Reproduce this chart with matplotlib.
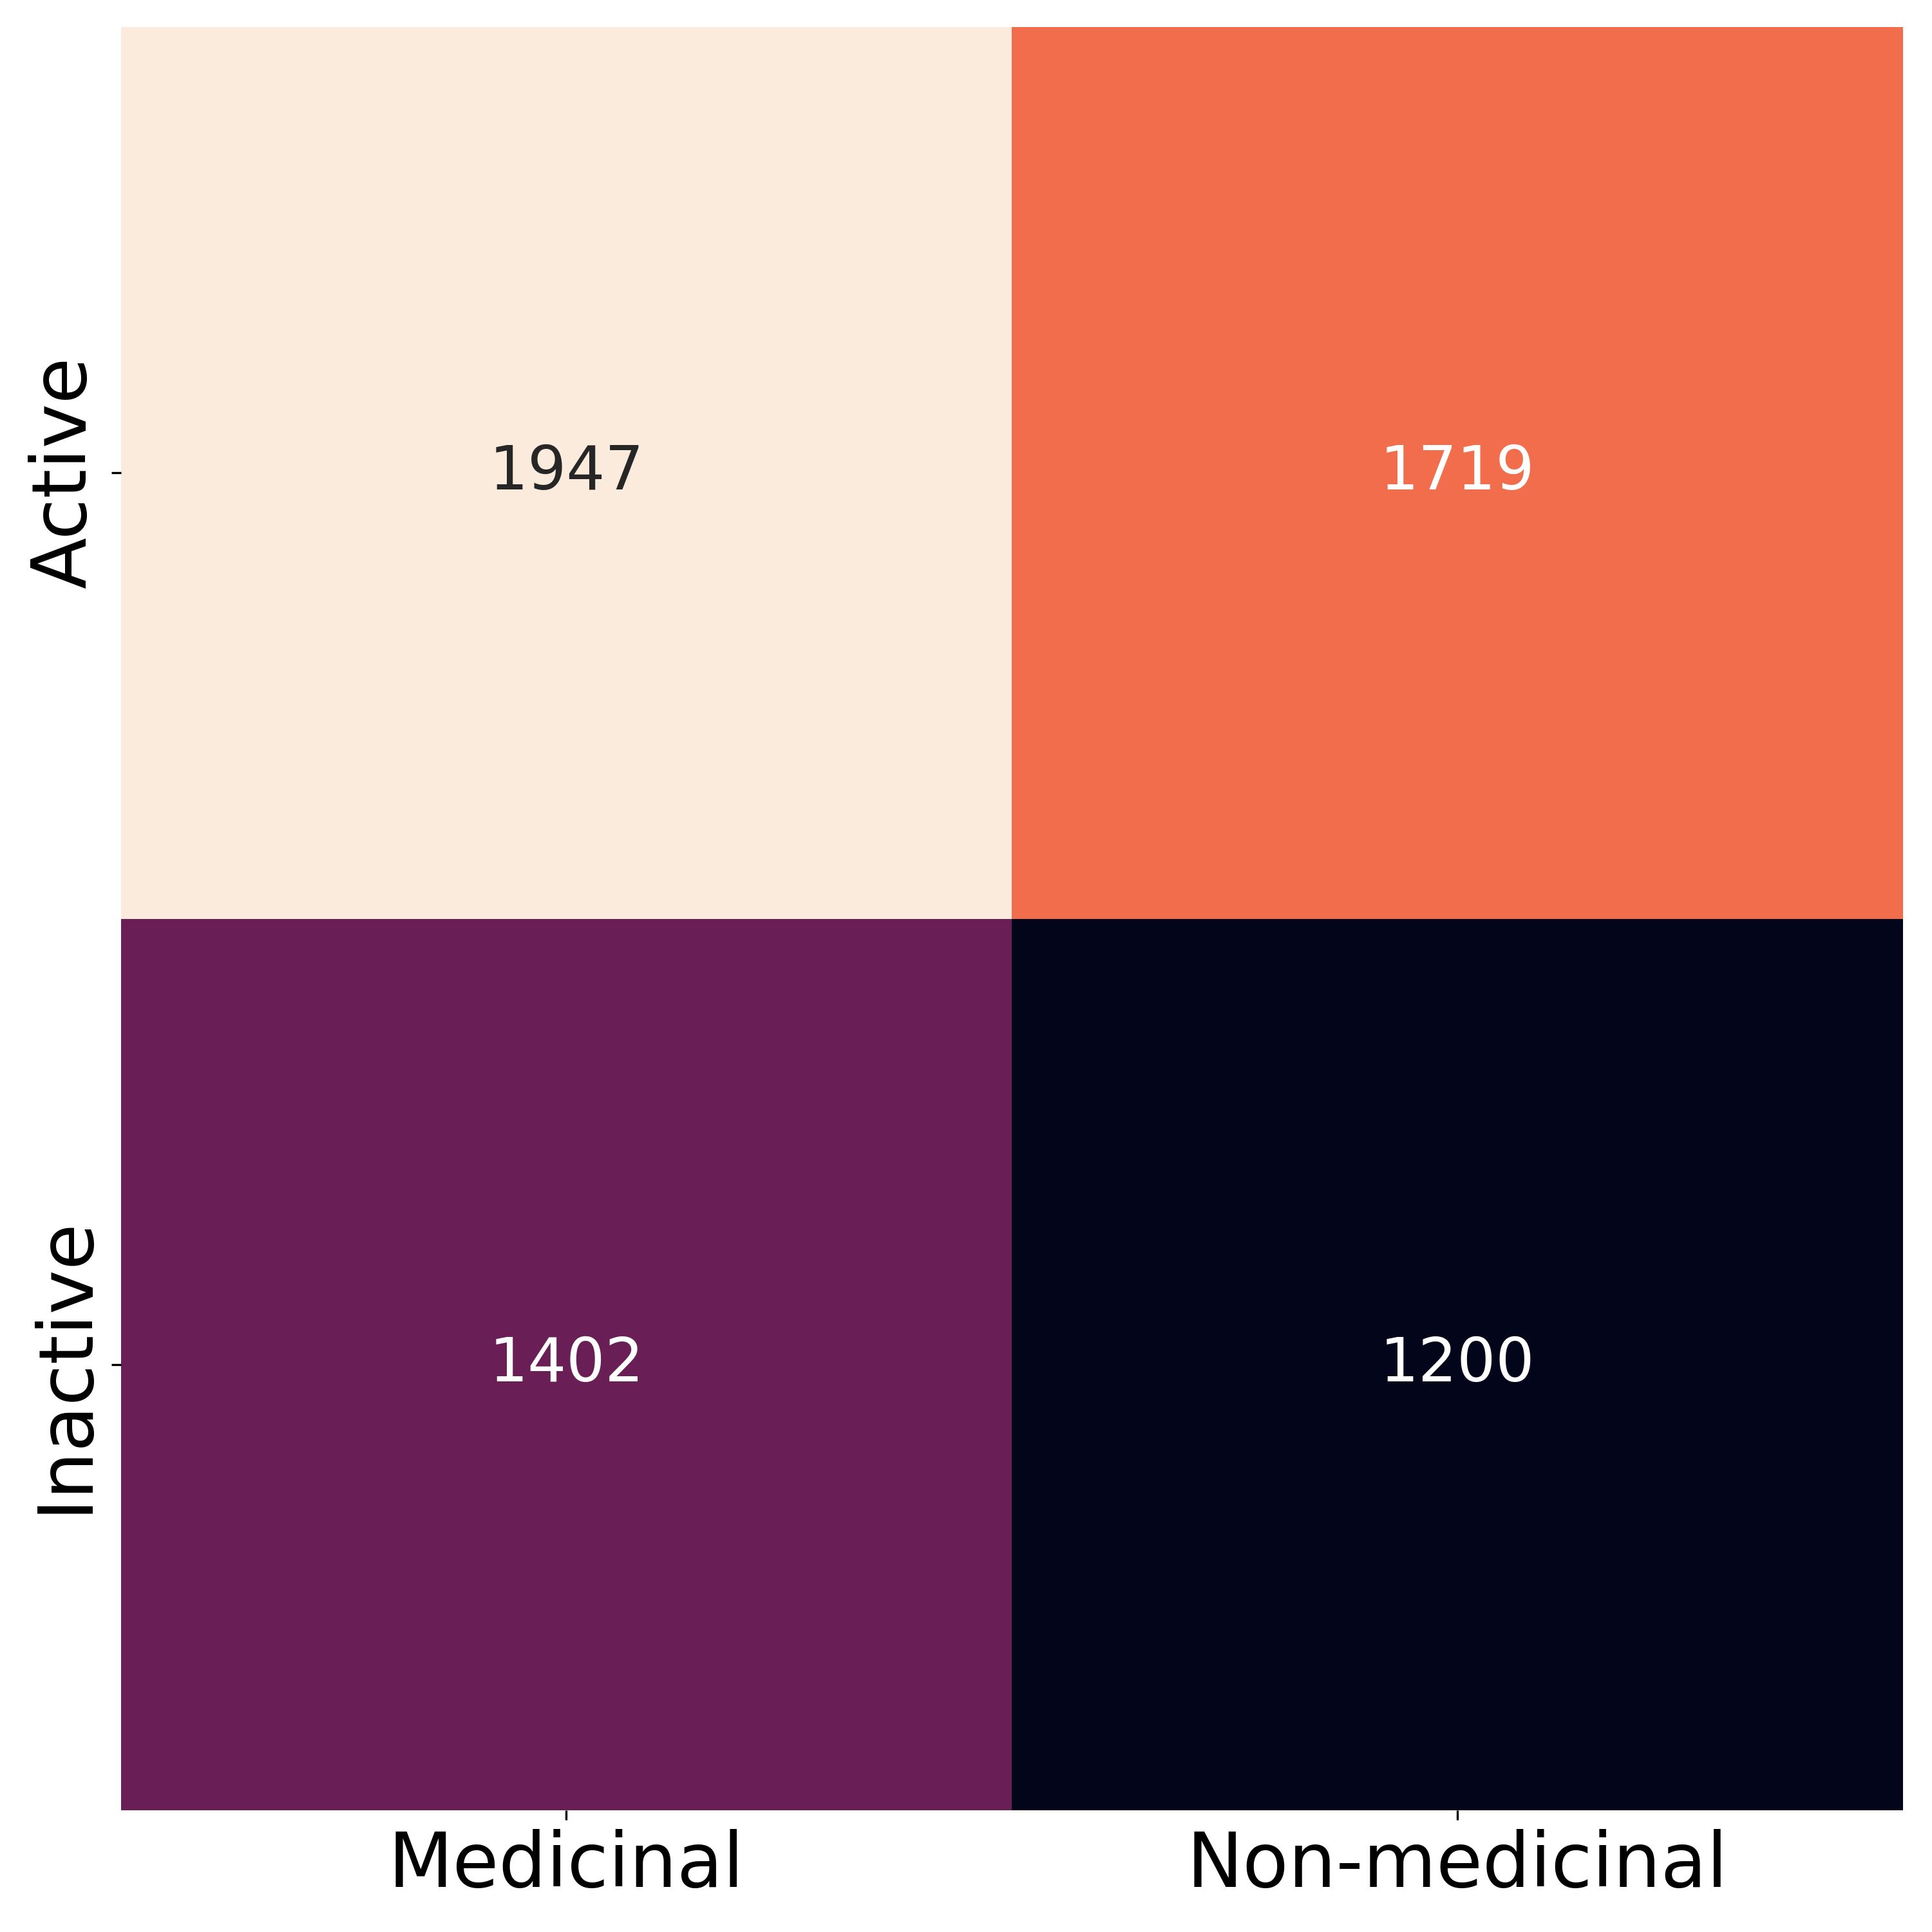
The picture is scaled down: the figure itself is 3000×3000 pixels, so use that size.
import matplotlib
matplotlib.use("Agg")
import matplotlib.pyplot as plt
import seaborn as sns
import numpy as np

row_labels = ["Active", "Inactive"]
col_labels = ["Medicinal", "Non-medicinal"]
values = np.array([[1947, 1719],
                   [1402, 1200]])

fig, ax = plt.subplots(figsize=(10, 10), dpi=300)
sns.heatmap(values, annot=True, fmt="d", cmap="rocket", cbar=False,
            xticklabels=col_labels, yticklabels=row_labels,
            annot_kws={"fontsize": 22.7}, ax=ax)
ax.tick_params(axis="both", labelsize=28)
plt.setp(ax.get_yticklabels(), rotation=90, va="center")
fig.subplots_adjust(left=0.0625, right=0.985, top=0.986, bottom=0.063)
fig.savefig("out.png", dpi=300)
